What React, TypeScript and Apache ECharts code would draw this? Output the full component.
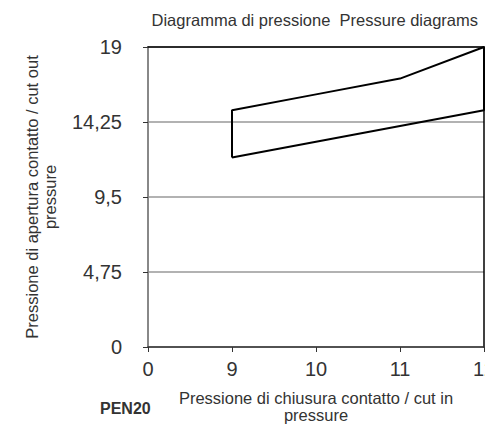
import React, { useEffect, useRef } from "react";
import * as echarts from "echarts";

const xValues = [9, 10, 11, 12, 12, 11, 10, 9, 9];
const yValues = [12, 13, 14, 15, 19, 17, 16, 15, 12];
const yTicks = ["0", "4,75", "9,5", "14,25", "19"];
const titleText = "Diagramma di pressione  Pressure diagrams";
const xName = "Pressione di chiusura contatto / cut in\npressure";
const yName = "Pressione di apertura contatto / cut out\npressure";
const modelLabel = "PEN20";

export default function App() {
  const ref = useRef<HTMLDivElement>(null);
  useEffect(() => {
    if (!ref.current) return;
    const chart = echarts.init(ref.current, undefined, { renderer: "svg" });
    const font = "Liberation Sans, Arial, sans-serif";
    const data = xValues.map((x, i) => [x, yValues[i]]);
    chart.setOption({
      animation: false,
      textStyle: { fontFamily: font },
      title: {
        text: titleText,
        right: 7,
        top: 11,
        padding: 0,
        textStyle: { fontSize: 16.5, fontWeight: "normal", color: "#333", fontFamily: font },
      },
      grid: {
        left: 148,
        right: 1,
        top: 47,
        bottom: 80,
        containLabel: false,
        outerBoundsMode: "none",
      },
      xAxis: [
        {
          type: "value",
          min: 8,
          max: 12,
          interval: 1,
          name: xName,
          nameLocation: "middle",
          nameGap: 42,
          nameTextStyle: { fontSize: 16.5, color: "#333", lineHeight: 17, fontFamily: font },
          axisLine: { show: true, lineStyle: { color: "#333", width: 1.5 } },
          axisTick: { show: true, length: 5, lineStyle: { color: "#333" } },
          axisLabel: {
            margin: 12,
            fontSize: 20,
            color: "#333",
            fontFamily: font,
            formatter: (v: number) => (v === 8 ? "0" : String(v)),
          },
          splitLine: { show: false },
        },
        {
          type: "value",
          position: "top",
          min: 8,
          max: 12,
          axisLine: { show: true, onZero: false, lineStyle: { color: "#000", width: 1.5 } },
          axisTick: { show: false },
          axisLabel: { show: false },
          splitLine: { show: false },
        },
      ],
      yAxis: [
        {
          type: "value",
          min: 0,
          max: 19,
          interval: 4.75,
          name: yName,
          nameLocation: "middle",
          nameRotate: 90,
          nameGap: 89,
          nameTextStyle: { fontSize: 16.5, color: "#333", lineHeight: 18, fontFamily: font },
          axisLine: { show: true, onZero: false, lineStyle: { color: "#888", width: 2 } },
          axisTick: { show: true, length: 5, lineStyle: { color: "#333" } },
          axisLabel: {
            margin: 26,
            fontSize: 20,
            color: "#333",
            fontFamily: font,
            formatter: (v: number) => {
              const i = Math.round(v / 4.75);
              return yTicks[i] ?? "";
            },
          },
          splitLine: { show: true, lineStyle: { color: "#999", width: 1.5 } },
        },
        {
          type: "value",
          position: "right",
          min: 0,
          max: 19,
          axisLine: { show: true, onZero: false, lineStyle: { color: "#000", width: 1.5 } },
          axisTick: { show: false },
          axisLabel: { show: false },
          splitLine: { show: false },
        },
      ],
      graphic: [
        {
          type: "text",
          left: 100,
          top: 400,
          style: { text: modelLabel, fontSize: 16, fontWeight: "bold", fill: "#333", fontFamily: font },
        },
      ],
      series: [
        {
          type: "line",
          data,
          xAxisIndex: 0,
          yAxisIndex: 0,
          symbol: "none",
          lineStyle: { color: "#000", width: 2 },
        },
      ],
    });
    return () => chart.dispose();
  }, []);
  return (
    <div
      ref={ref}
      style={{ position: "absolute", left: 0, top: 0, width: 485, height: 427 }}
    />
  );
}
